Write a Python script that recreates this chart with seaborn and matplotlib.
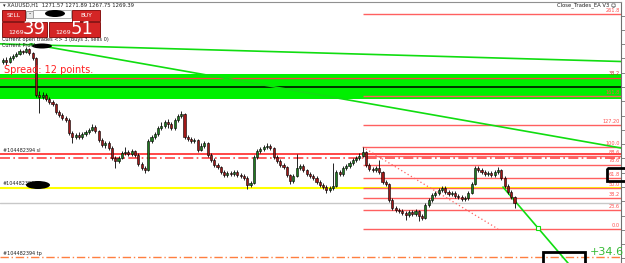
import numpy as np
import pandas as pd
import matplotlib
matplotlib.use("Agg")
import matplotlib.pyplot as plt
import seaborn as sns
from matplotlib.patches import Rectangle, Ellipse

# ---------------- data ----------------
first_open = 1318.8
closes = [1319.5, 1318.8, 1320.2, 1320.9, 1321.6, 1322.6, 1322.3, 1323.3, 1321.9, 1320.2,
          1307.2, 1306.5, 1307.2, 1305.8, 1304.8, 1304.1, 1301.3, 1300.2, 1299.2, 1298.5,
          1293.9, 1292.5, 1293.2, 1292.5, 1293.6, 1294.3, 1295.0, 1296.0, 1294.6, 1291.5,
          1289.7, 1290.4, 1288.7, 1285.2, 1284.1, 1285.2, 1286.9, 1287.3, 1286.6, 1287.6,
          1286.2, 1283.1, 1281.7, 1281.0, 1291.1, 1292.5, 1293.6, 1295.7, 1296.4, 1297.8,
          1297.1, 1295.7, 1298.5, 1299.9, 1300.5, 1292.5, 1291.8, 1291.1, 1291.5, 1288.0,
          1289.4, 1290.4, 1286.2, 1284.5, 1282.7, 1282.0, 1280.3, 1279.2, 1279.9, 1279.6,
          1280.3, 1279.2, 1278.9, 1278.2, 1275.7, 1276.4, 1285.5, 1287.6, 1288.3, 1289.0,
          1289.4, 1288.7, 1285.5, 1284.1, 1282.7, 1282.0, 1279.2, 1277.1, 1278.9, 1281.7,
          1282.4, 1281.0, 1279.6, 1278.9, 1278.2, 1276.8, 1275.7, 1275.0, 1274.0, 1274.7,
          1275.4, 1280.3, 1279.6, 1281.7, 1282.4, 1283.4, 1284.5, 1285.2, 1285.9, 1287.3,
          1282.7, 1281.3, 1281.0, 1281.7, 1280.3, 1276.8, 1276.1, 1270.5, 1267.7, 1267.0,
          1266.6, 1265.9, 1265.2, 1266.3, 1265.6, 1266.6, 1264.9, 1264.2, 1268.7, 1270.5,
          1272.2, 1272.9, 1274.0, 1274.7, 1273.3, 1272.6, 1272.9, 1271.9, 1271.5, 1270.8,
          1271.2, 1272.9, 1276.1, 1281.7, 1281.0, 1280.3, 1279.6, 1279.9, 1279.2, 1280.3,
          1281.0, 1278.2, 1275.4, 1273.3, 1271.6, 1269.4]
highs = [1320.2, 1320.5, 1320.9, 1321.6, 1322.3, 1323.3, 1323.0, 1324.0, 1323.7, 1322.3,
         1320.5, 1308.6, 1308.3, 1307.9, 1306.5, 1305.5, 1304.5, 1302.0, 1300.9, 1299.9,
         1299.2, 1294.6, 1293.9, 1294.3, 1294.3, 1295.0, 1295.7, 1297.1, 1296.7, 1295.0,
         1292.2, 1291.1, 1291.1, 1289.4, 1285.9, 1285.9, 1287.6, 1289.0, 1288.0, 1288.3,
         1288.0, 1286.9, 1283.8, 1282.4, 1291.8, 1293.2, 1294.3, 1296.4, 1297.8, 1298.5,
         1298.9, 1297.8, 1299.2, 1300.6, 1301.6, 1300.9, 1293.2, 1292.5, 1292.2, 1291.8,
         1290.4, 1291.1, 1290.8, 1286.9, 1285.2, 1283.4, 1282.4, 1281.0, 1280.6, 1280.6,
         1281.0, 1281.0, 1279.9, 1279.6, 1278.9, 1277.1, 1286.2, 1288.3, 1289.0, 1289.7,
         1290.4, 1290.1, 1289.0, 1286.2, 1284.8, 1283.4, 1282.4, 1279.6, 1279.6, 1286.6,
         1283.1, 1283.1, 1281.3, 1280.3, 1279.6, 1278.9, 1277.5, 1276.4, 1275.7, 1275.4,
         1283.4, 1281.0, 1281.0, 1282.4, 1283.1, 1284.1, 1285.2, 1285.9, 1286.9, 1289.0,
         1287.6, 1283.4, 1282.0, 1282.4, 1284.5, 1280.6, 1277.5, 1276.4, 1271.2, 1268.4,
         1267.7, 1267.3, 1266.6, 1267.0, 1267.0, 1267.3, 1267.0, 1265.6, 1269.4, 1271.2,
         1272.9, 1273.6, 1274.7, 1275.4, 1275.4, 1274.0, 1273.6, 1273.6, 1272.6, 1272.2,
         1271.9, 1273.6, 1276.8, 1282.4, 1282.4, 1281.7, 1281.0, 1280.6, 1280.6, 1281.0,
         1282.0, 1281.3, 1278.9, 1276.1, 1274.0, 1271.9]
lows = [1318.1, 1317.8, 1318.4, 1319.5, 1320.5, 1321.2, 1321.6, 1321.9, 1321.2, 1319.5,
        1306.5, 1300.9, 1305.8, 1305.1, 1304.1, 1303.4, 1300.6, 1299.5, 1298.5, 1297.8,
        1293.2, 1290.4, 1291.8, 1291.8, 1291.8, 1292.9, 1293.6, 1294.6, 1293.9, 1290.8,
        1289.0, 1288.7, 1288.0, 1284.5, 1281.7, 1283.4, 1284.8, 1286.2, 1285.9, 1285.9,
        1285.5, 1282.4, 1281.0, 1279.9, 1280.6, 1290.4, 1291.8, 1292.9, 1295.0, 1295.7,
        1295.7, 1295.0, 1295.0, 1297.8, 1299.2, 1291.8, 1291.1, 1290.4, 1290.4, 1287.3,
        1287.6, 1288.7, 1285.5, 1283.8, 1282.0, 1281.3, 1279.6, 1278.5, 1278.5, 1278.9,
        1278.9, 1278.5, 1278.2, 1277.5, 1274.4, 1275.0, 1276.1, 1284.8, 1286.9, 1287.6,
        1288.3, 1288.0, 1284.8, 1283.4, 1282.0, 1281.3, 1278.5, 1276.1, 1276.4, 1278.5,
        1281.0, 1280.3, 1278.9, 1278.2, 1277.5, 1276.1, 1275.0, 1274.3, 1272.9, 1273.3,
        1274.0, 1275.0, 1278.9, 1278.9, 1281.0, 1281.7, 1282.7, 1283.8, 1284.5, 1285.5,
        1282.0, 1280.6, 1280.3, 1280.3, 1279.6, 1276.1, 1275.4, 1269.8, 1267.0, 1266.3,
        1265.9, 1265.2, 1263.5, 1264.5, 1264.9, 1264.9, 1263.1, 1263.5, 1263.8, 1268.0,
        1269.8, 1271.5, 1272.2, 1273.3, 1272.6, 1271.9, 1271.9, 1271.2, 1270.8, 1270.1,
        1270.1, 1270.5, 1272.6, 1275.7, 1280.3, 1279.6, 1278.9, 1278.9, 1278.5, 1278.5,
        1279.6, 1277.5, 1274.7, 1272.6, 1270.8, 1267.8]

band_low, band_high = 1305.7, 1314.4
band_red = 1313.3
band_black = 1309.9
sl_level = 1286.7
sl_dash_level = 1285.3
entry_level = 1274.7
bid_level = 1269.4
tp_level = 1250.5

fib_low, fib_high = 1260.3, 1289.0
fib_start, fib_end = 109, 150
fib_levels = [0.0, 23.6, 38.2, 50.0, 61.8, 78.6, 88.6, 100.0, 127.2, 161.8, 261.8]
fib_labels = ["0.0", "23.6", "38.2", "50.0", "61.8", "78.6", "88.6", "100.0", "127.20", "161.8", "261.8"]

trend1_x, trend1_y = [-1, 188], [1325.1, 1318.9]
trend2_x, trend2_y = [8.2, 188], [1325.1, 1288.5]
trend3_x, trend3_y = [151.5, 176], [1275.0, 1241.9]
trend3_mark = (162.1, 1260.7)

profit_text = "+34.6"
ticket = "#104482394"

# ---------------- figure ----------------
sns.set_theme(style="white")
plt.rcParams['font.family'] = ['DejaVu Sans']

W, H = 625, 263
fig = plt.figure(figsize=(W / 100, H / 100), dpi=100)
fig.patch.set_facecolor("white")
ax = fig.add_axes([0, 0, 621 / W, 261 / H])
ax.set_facecolor("white")

n = len(closes)
idx = np.arange(n)
opens = [first_open] + closes[:-1]
df = pd.DataFrame({"i": idx, "open": opens, "high": highs, "low": lows, "close": closes})

# green zone + horizontal levels
ax.axhspan(band_low, band_high, color="#00f000", lw=0, zorder=1)
ax.axhline(band_red, color="#ff4040", lw=0.9, zorder=2)
ax.axhline(band_black, color="black", lw=1.1, zorder=2)
ax.axhline(sl_level, color="#ff4545", lw=1.4, zorder=2)
ax.axhline(sl_dash_level, color="#ff4545", lw=1.2, ls=(0, (6, 2, 1, 2)), zorder=2)
ax.axhline(entry_level, color="#ffff00", lw=1.5, zorder=2)
ax.axhline(bid_level, color="#c8c8c8", lw=1.0, zorder=2)
ax.axhline(tp_level, color="#ff7f40", lw=1.0, ls=(0, (6, 2, 1, 2)), zorder=2)

# fibonacci levels
rng = fib_high - fib_low
for lvl, lab in zip(fib_levels, fib_labels):
    yv = fib_low + rng * lvl / 100.0
    ax.hlines(yv, fib_start, 190, color="#ff6060", lw=1.0, zorder=2)
    ax.text(620 / 621, yv + 0.4, lab, transform=ax.get_yaxis_transform(),
            ha="right", va="bottom", fontsize=3.6, color="#ff5050", zorder=6)
ax.text(620 / 621, band_red + 0.4, "38.2", transform=ax.get_yaxis_transform(),
        ha="right", va="bottom", fontsize=3.6, color="#cc3030", zorder=6)
fib_line = pd.DataFrame({"x": [fib_start, fib_end], "y": [fib_high, fib_low]})
sns.lineplot(data=fib_line, x="x", y="y", ax=ax, color="#ff6060", lw=0.9,
             linestyle=(0, (1, 2)), zorder=3)

# trend lines
for tx, ty in [(trend1_x, trend1_y), (trend2_x, trend2_y), (trend3_x, trend3_y)]:
    tdf = pd.DataFrame({"x": tx, "y": ty})
    sns.lineplot(data=tdf, x="x", y="y", ax=ax, color="#10dd10", lw=1.2, zorder=4)
ax.plot([trend3_mark[0]], [trend3_mark[1]], marker="s", ms=2.5, mfc="white",
        mec="#10dd10", mew=0.8, zorder=5)

# candles
ax.vlines(df["i"], df["low"], df["high"], color="black", lw=0.6, zorder=5)
bull = df["close"] >= df["open"]
body_lo = np.minimum(df["open"], df["close"])
body_h = np.maximum(np.abs(df["close"] - df["open"]), 0.25)
ax.bar(df["i"][bull], body_h[bull], bottom=body_lo[bull], width=0.62,
       color="#1f7a1f", edgecolor="black", lw=0.4, zorder=6)
ax.bar(df["i"][~bull], body_h[~bull], bottom=body_lo[~bull], width=0.62,
       color="#a01818", edgecolor="black", lw=0.4, zorder=6)

# profit box
ax.add_patch(Rectangle((163.6, 1246.0), 12.8, 6.25, fill=False, ec="black", lw=2.0, zorder=7))
ax.text(177.8, 1252.3, profit_text, fontsize=8, color="#33bb33", va="center", ha="left", zorder=7)

# left labels
xt = ax.get_yaxis_transform()
ax.text(3 / 621, sl_level + 0.2, ticket + " sl", transform=xt, fontsize=3.5, va="bottom", color="#202020", zorder=7)
ax.text(3 / 621, entry_level + 0.8, ticket, transform=xt, fontsize=3.5, va="bottom", color="#202020", zorder=7)
ax.text(3 / 621, tp_level + 0.3, ticket + " tp", transform=xt, fontsize=3.5, va="bottom", color="#202020", zorder=7)

# axes cosmetics
ax.set_xlim(-0.91, 187.27)
ax.set_ylim(1248.4, 1339.75)
ax.set_xlabel("")
ax.set_ylabel("")
ax.set_xticks([])
ax.yaxis.tick_right()
ax.set_yticks(np.arange(1250, 1340, 5))
ax.set_yticklabels([])
ax.tick_params(axis="y", direction="out", length=3, width=0.6, color="#707070", right=True, left=False)
for s in ["left", "bottom"]:
    ax.spines[s].set_visible(False)
ax.spines["right"].set_color("#707070")
ax.spines["right"].set_linewidth(0.8)
ax.spines["top"].set_color("#909090")
ax.spines["top"].set_linewidth(0.8)

# ---------------- overlay (terminal UI) ----------------
ov = fig.add_axes([0, 0, 1, 1], zorder=10)
ov.set_xlim(0, W)
ov.set_ylim(H, 0)
ov.axis("off")
ov.patch.set_alpha(0)

ov.text(3, 5, "▾ XAUUSD,H1  1271.57 1271.89 1267.75 1269.39", fontsize=3.8, va="center", color="#202020")
ov.text(616, 5, "Close_Trades_EA V3 ☺", fontsize=3.8, va="center", ha="right", color="#202020")

red = "#d42525"
edge = "#7a0000"
ov.add_patch(Rectangle((2, 10), 23, 11, fc=red, ec=edge, lw=0.6))
ov.text(13.5, 15.5, "SELL", fontsize=4.2, color="white", ha="center", va="center")
ov.add_patch(Rectangle((26, 11), 7, 6.5, fc="#e8e8e8", ec="#808080", lw=0.5))
ov.text(29.5, 14, "-", fontsize=4.5, ha="center", va="center", color="black")
ov.add_patch(Rectangle((33, 10), 38, 8, fc="white", ec="#909090", lw=0.5))
ov.add_patch(Ellipse((55, 13.5), 20, 7, fc="black", ec="none"))
ov.add_patch(Rectangle((72, 10), 28, 11, fc=red, ec=edge, lw=0.6))
ov.text(86, 15.5, "BUY", fontsize=4.2, color="white", ha="center", va="center")
ov.add_patch(Rectangle((2, 22), 45, 15, fc=red, ec=edge, lw=0.6))
ov.add_patch(Rectangle((49, 22), 51, 15, fc=red, ec=edge, lw=0.6))
ov.text(16, 32, "1269", fontsize=4.5, color="white", ha="center", va="center")
ov.text(23, 29.5, "39", fontsize=13, color="white", ha="left", va="center")
ov.text(63, 32, "1269", fontsize=4.5, color="white", ha="center", va="center")
ov.text(71, 29.5, "51", fontsize=13, color="white", ha="left", va="center")

ov.text(2, 40, "Current open trades <> 3 (buys 3, sells 0)", fontsize=3.6, va="center", color="#202020")
ov.text(2, 45.5, "Current Profit:", fontsize=3.6, va="center", color="#202020")
ov.add_patch(Ellipse((42, 46), 20, 5, fc="black", ec="none"))
ov.text(4, 70, "Spread: 12 points.", fontsize=7, va="center", color="#ff2020")
ov.add_patch(Ellipse((38, 185), 24, 8, fc="black", ec="none"))

# right boxed label
ov.add_patch(Rectangle((607, 168), 20, 13, fill=False, ec="black", lw=2.0))

fig.savefig("out.png", dpi=100, facecolor="white")
